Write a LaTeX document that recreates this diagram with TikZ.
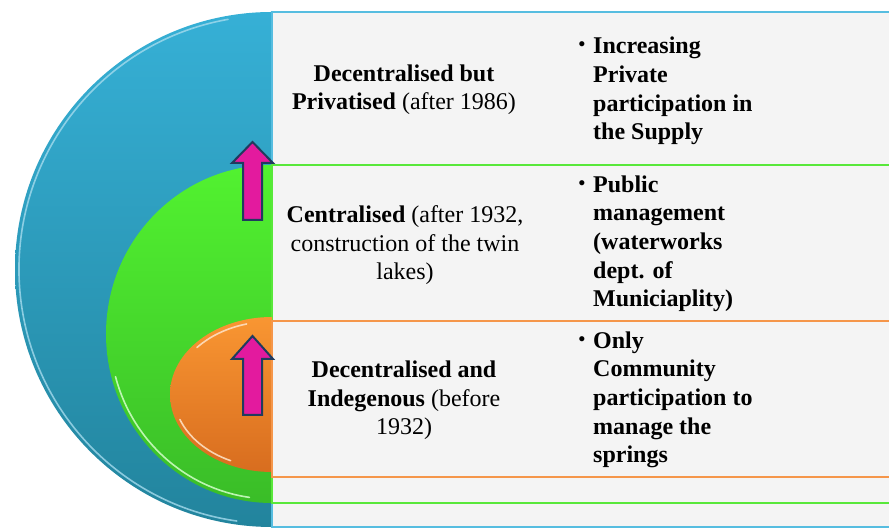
\documentclass[tikz,border=0pt]{standalone}
\usepackage{fontspec}
\setmainfont{Liberation Serif}
\definecolor{blueTop}{HTML}{36B0D6}
\definecolor{blueBot}{HTML}{22849D}
\definecolor{greenTop}{HTML}{52F230}
\definecolor{greenBot}{HTML}{3ABD28}
\definecolor{orTop}{HTML}{F99632}
\definecolor{orBot}{HTML}{D86D1F}
\definecolor{blueLine}{HTML}{56BDE0}
\definecolor{greenLine}{HTML}{58E83A}
\definecolor{orLine}{HTML}{F5964A}
\definecolor{panelgray}{HTML}{F4F4F4}
\definecolor{arrowpink}{HTML}{E31A9E}
\definecolor{arrownavy}{HTML}{203B5E}
\begin{document}
\begin{tikzpicture}[x=1pt,y=1pt,
  lefttxt/.style={font=\fontsize{24}{28.7}\selectfont, align=center, inner sep=0pt, anchor=base},
  righttxt/.style={font=\bfseries\fontsize{24}{28.7}\selectfont, align=left, inner sep=0pt, anchor=base west},
  panel/.style={fill=panelgray, line width=1.8pt},
  uparrow/.style={fill=arrowpink, draw=arrownavy, line width=2pt, line join=miter},
  rim/.style={line width=1.6pt, line cap=round}]
\useasboundingbox (0,0) rectangle (889,529);
\fill[white] (0,0) rectangle (889,529);
% blue layer
\path[top color=blueTop, bottom color=blueBot] (272,517) arc[start angle=90, end angle=270, x radius=257, y radius=257.5] -- cycle;
\draw[rim, color=white!55!blueTop, opacity=0.8] (272,259.5) ++(100:253 and 254) arc[start angle=100, end angle=262, x radius=253, y radius=254];
\draw[panel, draw=blueLine] (272,2) rectangle (895,517);
% green layer
\path[top color=greenTop, bottom color=greenBot] (272,364) arc[start angle=90, end angle=270, x radius=166, y radius=169] -- cycle;
\draw[rim, color=white!70!greenTop, opacity=0.9] (272,195) ++(195:162 and 165) arc[start angle=195, end angle=262, x radius=162, y radius=165];
\draw[panel, draw=greenLine] (272,26) rectangle (895,364);
% orange layer
\path[top color=orTop, bottom color=orBot] (272,212) arc[start angle=90, end angle=270, x radius=102, y radius=77.5] -- cycle;
\draw[rim, color=white!70!orTop, opacity=0.9] (272,134.5) ++(105:98 and 73) arc[start angle=105, end angle=140, x radius=98, y radius=73];
\draw[rim, color=white!70!orTop, opacity=0.9] (272,134.5) ++(200:98 and 73) arc[start angle=200, end angle=245, x radius=98, y radius=73];
\draw[panel, draw=orLine] (272,52) rectangle (895,208);
% arrows
\draw[uparrow] (243,309) -- (243,366) -- (232,366) -- (252.5,387) -- (273,366) -- (262,366) -- (262,309) -- cycle;
\draw[uparrow] (243,114) -- (243,170) -- (232,170) -- (252.5,193) -- (273,170) -- (262,170) -- (262,114) -- cycle;
% texts (anchor = baseline of the last line)
\newcommand{\bul}{\llap{\raisebox{3pt}{\fontsize{19}{19}\selectfont\textbullet}\hspace{8pt}}}
\node[lefttxt] (t1) at (404,419) {\textbf{Decentralised but}\\\textbf{Privatised} (after 1986)};
\node[righttxt] (r1) at (593,389) {\bul Increasing\\Private\\participation in\\the Supply};
\node[lefttxt] (t2) at (405,249) {\textbf{Centralised} (after 1932,\\construction of the twin\\lakes)};
\node[righttxt] (r2) at (593,222) {\bul Public\\management\\(waterworks\\dept. of\\Municiaplity)};
\node[lefttxt] (t3) at (404,94) {\textbf{Decentralised and}\\\textbf{Indegenous} (before\\1932)};
\node[righttxt] (r3) at (593,66) {\bul Only\\Community\\participation to\\manage the\\springs};
\end{tikzpicture}
\end{document}
